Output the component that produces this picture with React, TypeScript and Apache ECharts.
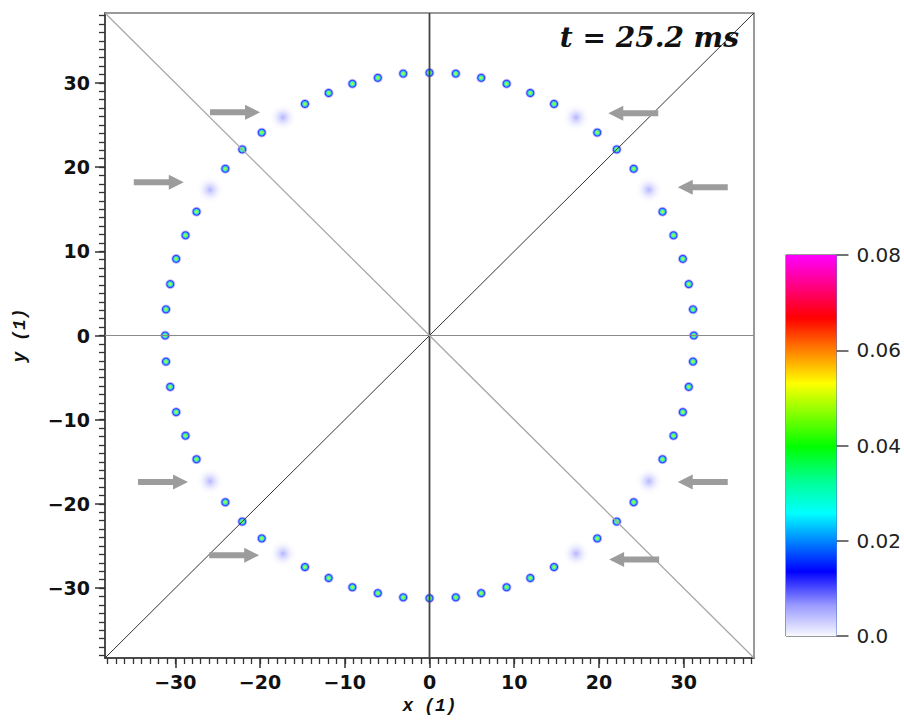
import React, { useEffect, useRef } from "react";
import * as echarts from "echarts";

// Axis limits of the main square plot
const AXIS_MIN = -38.3;
const AXIS_MAX = 38.3;
const MAJOR_TICKS = [-30, -20, -10, 0, 10, 20, 30];

// Bright particles around the ring (x, y)
const dotX = [
  31.2, 31.1, 30.6, 29.9, 28.8, 27.5, 24.1, 22.1, 19.8, 14.7, 11.9, 9.1, 6.1, 3.1, 0,
  -3.1, -6.1, -9.1, -11.9, -14.7, -19.8, -22.1, -24.1, -27.5, -28.8, -29.9, -30.6, -31.1, -31.2,
  -31.1, -30.6, -29.9, -28.8, -27.5, -24.1, -22.1, -19.8, -14.7, -11.9, -9.1, -6.1, -3.1, 0,
  3.1, 6.1, 9.1, 11.9, 14.7, 19.8, 22.1, 24.1, 27.5, 28.8, 29.9, 30.6, 31.1,
];
const dotY = [
  0, 3.1, 6.1, 9.1, 11.9, 14.7, 19.8, 22.1, 24.1, 27.5, 28.8, 29.9, 30.6, 31.1, 31.2,
  31.1, 30.6, 29.9, 28.8, 27.5, 24.1, 22.1, 19.8, 14.7, 11.9, 9.1, 6.1, 3.1, 0,
  -3.1, -6.1, -9.1, -11.9, -14.7, -19.8, -22.1, -24.1, -27.5, -28.8, -29.9, -30.6, -31.1, -31.2,
  -31.1, -30.6, -29.9, -28.8, -27.5, -24.1, -22.1, -19.8, -14.7, -11.9, -9.1, -6.1, -3.1,
];

// Diffuse (faded) particles
const blobX = [25.9, 17.3, -17.3, -25.9, -25.9, -17.3, 17.3, 25.9];
const blobY = [17.3, 25.9, 25.9, 17.3, -17.3, -25.9, -25.9, -17.3];

// Arrow tips pointing at the faded particles; dir 1 = points right, -1 = points left
const arrowTipX = [-20.0, -29.0, 21.1, 29.3, -28.5, -20.1, 29.3, 21.2];
const arrowTipY = [26.5, 18.2, 26.4, 17.6, -17.4, -26.1, -17.4, -26.6];
const arrowDir = [1, 1, -1, -1, 1, 1, -1, -1];

// Colour bar
const CBAR_MIN = 0;
const CBAR_MAX = 0.08;
const CBAR_TICKS = [0, 0.02, 0.04, 0.06, 0.08];
const cbarStops: [number, string][] = [
  [0, "#f8f8ff"],
  [0.08, "#9a9aff"],
  [0.169, "#0000ff"],
  [0.322, "#00ffff"],
  [0.41, "#00ff90"],
  [0.497, "#00ff00"],
  [0.663, "#ffff00"],
  [0.75, "#ff8000"],
  [0.834, "#ff0000"],
  [1, "#ff00ff"],
];

const TITLE = "t = 25.2 ms";

const minus = (v: number) => (v < 0 ? "\u2212" + Math.abs(v) : String(v));

const minorTicks: number[] = [];
for (let v = Math.ceil(AXIS_MIN); v <= Math.floor(AXIS_MAX); v++) minorTicks.push(v);

export default function App() {
  const ref = useRef<HTMLDivElement>(null);

  useEffect(() => {
    document.body.style.margin = "0";
    const chart = echarts.init(ref.current!, null, { renderer: "svg" });

    const dotColor = {
      type: "radial",
      x: 0.5,
      y: 0.5,
      r: 0.5,
      colorStops: [
        { offset: 0, color: "#d8ff00" },
        { offset: 0.22, color: "#50ff30" },
        { offset: 0.38, color: "#00e0b0" },
        { offset: 0.52, color: "#0070ff" },
        { offset: 0.64, color: "#0000ff" },
        { offset: 0.8, color: "rgba(90,90,255,0.55)" },
        { offset: 1, color: "rgba(200,200,255,0)" },
      ],
    };
    const blobColor = {
      type: "radial",
      x: 0.5,
      y: 0.5,
      r: 0.5,
      colorStops: [
        { offset: 0, color: "rgba(145,145,255,0.85)" },
        { offset: 0.35, color: "rgba(175,175,255,0.5)" },
        { offset: 0.7, color: "rgba(215,215,255,0.22)" },
        { offset: 1, color: "rgba(240,240,255,0)" },
      ],
    };

    const tickFont = {
      fontFamily: "DejaVu Sans",
      fontWeight: "bold" as const,
      fontSize: 19,
      color: "#111",
    };
    const nameFont = {
      fontFamily: "Liberation Mono",
      fontWeight: "bold" as const,
      fontStyle: "italic" as const,
      fontSize: 18,
      color: "#111",
    };

    const refLine = (pts: number[][], color: string, width: number) => ({
      type: "line",
      xAxisIndex: 0,
      yAxisIndex: 0,
      data: pts,
      symbol: "none",
      silent: true,
      z: 3,
      lineStyle: { color, width },
    });

    chart.setOption({
      animation: false,
      backgroundColor: "#fff",
      title: {
        text: TITLE,
        right: 160,
        top: 18,
        textStyle: {
          fontFamily: "DejaVu Serif",
          fontStyle: "italic",
          fontWeight: "bold",
          fontSize: 28,
          color: "#111",
        },
      },
      grid: [
        {
          left: 105,
          top: 13,
          width: 649,
          height: 647,
          show: true,
          borderColor: "#7a7a7a",
          borderWidth: 1.5,
        },
        {
          left: 786,
          top: 255,
          width: 52,
          height: 381,
          show: true,
          borderColor: "#333",
          borderWidth: 1,
        },
      ],
      xAxis: [
        {
          gridIndex: 0,
          type: "value",
          position: "bottom",
          min: AXIS_MIN,
          max: AXIS_MAX,
          name: "x (1)",
          nameLocation: "middle",
          nameGap: 39,
          nameTextStyle: nameFont,
          splitLine: { show: false },
          axisLine: { show: true, onZero: false, lineStyle: { color: "#333", width: 1.5 } },
          axisTick: {
            show: true,
            customValues: MAJOR_TICKS,
            length: 10,
            lineStyle: { color: "#333", width: 1.5 },
          },
          axisLabel: {
            customValues: MAJOR_TICKS,
            formatter: minus,
            margin: 14,
            ...tickFont,
          },
        },
        {
          gridIndex: 0,
          type: "value",
          position: "bottom",
          min: AXIS_MIN,
          max: AXIS_MAX,
          splitLine: { show: false },
          axisLine: { show: false, onZero: false },
          axisTick: {
            show: true,
            customValues: minorTicks,
            length: 6,
            lineStyle: { color: "#333", width: 1.3 },
          },
          axisLabel: { show: false },
        },
        {
          gridIndex: 1,
          type: "value",
          min: 0,
          max: 1,
          show: false,
        },
      ],
      yAxis: [
        {
          gridIndex: 0,
          type: "value",
          position: "left",
          min: AXIS_MIN,
          max: AXIS_MAX,
          name: "y (1)",
          nameLocation: "middle",
          nameGap: 76,
          nameTextStyle: nameFont,
          splitLine: { show: false },
          axisLine: { show: true, onZero: false, lineStyle: { color: "#333", width: 1.5 } },
          axisTick: {
            show: true,
            customValues: MAJOR_TICKS,
            length: 10,
            lineStyle: { color: "#333", width: 1.5 },
          },
          axisLabel: {
            customValues: MAJOR_TICKS,
            formatter: minus,
            margin: 15,
            ...tickFont,
          },
        },
        {
          gridIndex: 0,
          type: "value",
          position: "left",
          min: AXIS_MIN,
          max: AXIS_MAX,
          splitLine: { show: false },
          axisLine: { show: false, onZero: false },
          axisTick: {
            show: true,
            customValues: minorTicks,
            length: 6,
            lineStyle: { color: "#333", width: 1.3 },
          },
          axisLabel: { show: false },
        },
        {
          gridIndex: 1,
          type: "value",
          position: "right",
          min: CBAR_MIN,
          max: CBAR_MAX,
          splitLine: { show: false },
          axisLine: { show: true, onZero: false, lineStyle: { color: "#5577cc", width: 1 } },
          axisTick: {
            show: true,
            inside: false,
            customValues: CBAR_TICKS,
            length: 12,
            lineStyle: { color: "#444", width: 1.5 },
          },
          axisLabel: {
            customValues: CBAR_TICKS,
            margin: 20,
            fontFamily: "DejaVu Sans",
            fontSize: 20,
            color: "#222",
            formatter: (v: number) => (v === 0 ? "0.0" : v.toFixed(2)),
          },
        },
      ],
      series: [
        {
          type: "scatter",
          xAxisIndex: 0,
          yAxisIndex: 0,
          data: blobX.map((x, i) => [x, blobY[i]]),
          symbol: "circle",
          symbolSize: 27,
          itemStyle: { color: blobColor },
          silent: true,
          z: 1,
        },
        {
          type: "scatter",
          xAxisIndex: 0,
          yAxisIndex: 0,
          data: dotX.map((x, i) => [x, dotY[i]]),
          symbol: "circle",
          symbolSize: 11,
          itemStyle: { color: dotColor },
          silent: true,
          z: 2,
        },
        refLine([[0, AXIS_MIN], [0, AXIS_MAX]], "#444", 1.8),
        refLine([[AXIS_MIN, 0], [AXIS_MAX, 0]], "#8a8a8a", 1.2),
        refLine([[AXIS_MIN, AXIS_MIN], [AXIS_MAX, AXIS_MAX]], "#333", 1),
        refLine([[AXIS_MIN, AXIS_MAX], [AXIS_MAX, AXIS_MIN]], "#a8a8a8", 1.3),
        {
          type: "custom",
          xAxisIndex: 0,
          yAxisIndex: 0,
          silent: true,
          z: 5,
          data: arrowTipX.map((x, i) => [x, arrowTipY[i], arrowDir[i]]),
          renderItem: (_params: any, api: any) => {
            const tip = api.coord([api.value(0), api.value(1)]);
            const d = api.value(2);
            const total = 50;
            const headLen = 15;
            const headHalf = 7.5;
            const shaftHalf = 3;
            const [tx, ty] = tip;
            const hx = tx - d * headLen;
            const bx = tx - d * total;
            return {
              type: "polygon",
              shape: {
                points: [
                  [tx, ty],
                  [hx, ty - headHalf],
                  [hx, ty - shaftHalf],
                  [bx, ty - shaftHalf],
                  [bx, ty + shaftHalf],
                  [hx, ty + shaftHalf],
                  [hx, ty + headHalf],
                ],
              },
              style: { fill: "#9c9c9c" },
            };
          },
        },
        {
          type: "custom",
          xAxisIndex: 2,
          yAxisIndex: 2,
          silent: true,
          z: 1,
          data: [[0, CBAR_MIN, 1, CBAR_MAX]],
          renderItem: (_params: any, api: any) => {
            const p0 = api.coord([api.value(0), api.value(3)]);
            const p1 = api.coord([api.value(2), api.value(1)]);
            return {
              type: "rect",
              shape: { x: p0[0], y: p0[1], width: p1[0] - p0[0], height: p1[1] - p0[1] },
              style: {
                fill: new echarts.graphic.LinearGradient(
                  0,
                  1,
                  0,
                  0,
                  cbarStops.map(([offset, color]) => ({ offset, color }))
                ),
              },
            };
          },
        },
      ],
    });

    return () => chart.dispose();
  }, []);

  return <div ref={ref} style={{ width: 904, height: 720 }} />;
}
